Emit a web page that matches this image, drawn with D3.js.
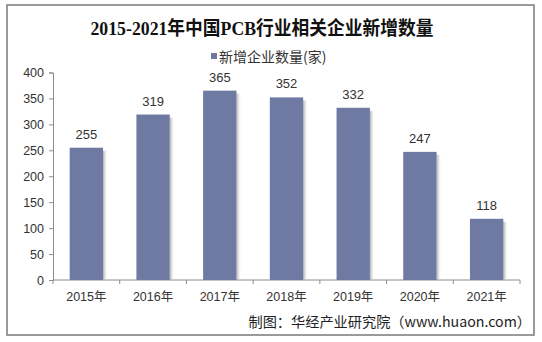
<!DOCTYPE html>
<html><head><meta charset="utf-8">
<script src="https://cdn.jsdelivr.net/npm/d3@7"></script>
<style>body{margin:0;background:#fff}svg{display:block}</style>
</head><body>
<script>
const categories = ["2015年","2016年","2017年","2018年","2019年","2020年","2021年"];
const values = [255, 319, 365, 352, 332, 247, 118];
const yTicks = [0,50,100,150,200,250,300,350,400];
const title = "2015-2021年中国PCB行业相关企业新增数量";
const legendLabel = "新增企业数量(家)";
const source = "制图：华经产业研究院（www.huaon.com）";

const W = 542, H = 342;
const svg = d3.select("body").append("svg").attr("width", W).attr("height", H);
const defs = svg.append("defs");
const g1 = defs.append("linearGradient").attr("id","shadow").attr("x1","0").attr("x2","1");
g1.append("stop").attr("offset","0").attr("stop-color","#9a9a9a").attr("stop-opacity",0.8);
g1.append("stop").attr("offset","1").attr("stop-color","#ffffff").attr("stop-opacity",0);

svg.append("rect").attr("x",7).attr("y",5).attr("width",527).attr("height",330)
  .attr("fill","#fff").attr("stroke","#7a7a7a").attr("stroke-width",1.5);

svg.append("text").attr("x",262).attr("y",35).attr("text-anchor","middle")
  .attr("font-family","'Liberation Serif','Noto Sans CJK SC',serif").attr("font-weight","bold")
  .attr("font-size",19).attr("textLength",343).attr("lengthAdjust","spacingAndGlyphs")
  .attr("fill","#111").text(title);

// legend
svg.append("rect").attr("x",211).attr("y",53).attr("width",6).attr("height",6).attr("fill","#6f7aa3");
svg.append("text").attr("x",219).attr("y",62).attr("font-family","'Noto Sans CJK SC',sans-serif")
  .attr("font-size",14).attr("fill","#333").text(legendLabel);

const x = d3.scaleBand().domain(categories).range([53,520]).paddingInner(0.5).paddingOuter(0.25);
const y = d3.scaleLinear().domain([0,400]).range([280,72.5]);

const font = "'Liberation Sans',Arial,'Noto Sans CJK SC',sans-serif";

// y axis
const ya = svg.append("g").attr("transform","translate(53,0)")
  .call(d3.axisLeft(y).tickValues(yTicks).tickSize(4).tickPadding(5));
ya.select(".domain").attr("stroke","#8c8c8c");
ya.selectAll(".tick line").attr("stroke","#8c8c8c");
ya.selectAll("text").attr("font-family",font).attr("font-size",12.5).attr("fill","#333");

// x axis
const xb = d3.scaleLinear().domain([0,7]).range([53,520]);
const xa = svg.append("g").attr("transform","translate(0,280)");
xa.append("line").attr("x1",53).attr("x2",520).attr("stroke","#8c8c8c");
xa.selectAll("line.t").data(d3.range(8)).join("line").attr("class","t")
  .attr("x1",d=>xb(d)).attr("x2",d=>xb(d)).attr("y1",0).attr("y2",4).attr("stroke","#8c8c8c");
xa.selectAll("text").data(categories).join("text")
  .attr("x",d=>x(d)+x.bandwidth()/2).attr("y",21).attr("text-anchor","middle")
  .attr("font-family",font).attr("font-size",12.5).attr("fill","#333").text(d=>d);

// bars
const data = categories.map((c,i)=>({c, v: values[i]}));
svg.selectAll("rect.sh").data(data).join("rect").attr("class","sh")
  .attr("x",d=>x(d.c)+x.bandwidth()).attr("y",d=>y(d.v)+3)
  .attr("width",5).attr("height",d=>280-y(d.v)-3).attr("fill","url(#shadow)");
svg.selectAll("rect.bar").data(data).join("rect").attr("class","bar")
  .attr("x",d=>x(d.c)).attr("y",d=>y(d.v)).attr("width",x.bandwidth())
  .attr("height",d=>280-y(d.v)).attr("fill","#6f7aa3");
svg.selectAll("text.val").data(data).join("text").attr("class","val")
  .attr("x",d=>x(d.c)+x.bandwidth()/2).attr("y",d=>y(d.v)-9).attr("text-anchor","middle")
  .attr("font-family",font).attr("font-size",13).attr("fill","#333").text(d=>d.v);

svg.append("text").attr("x",531).attr("y",327).attr("text-anchor","end")
  .attr("font-family","'Noto Sans CJK SC',sans-serif").attr("font-size",14.2).attr("fill","#222").text(source);
</script>
</body></html>
